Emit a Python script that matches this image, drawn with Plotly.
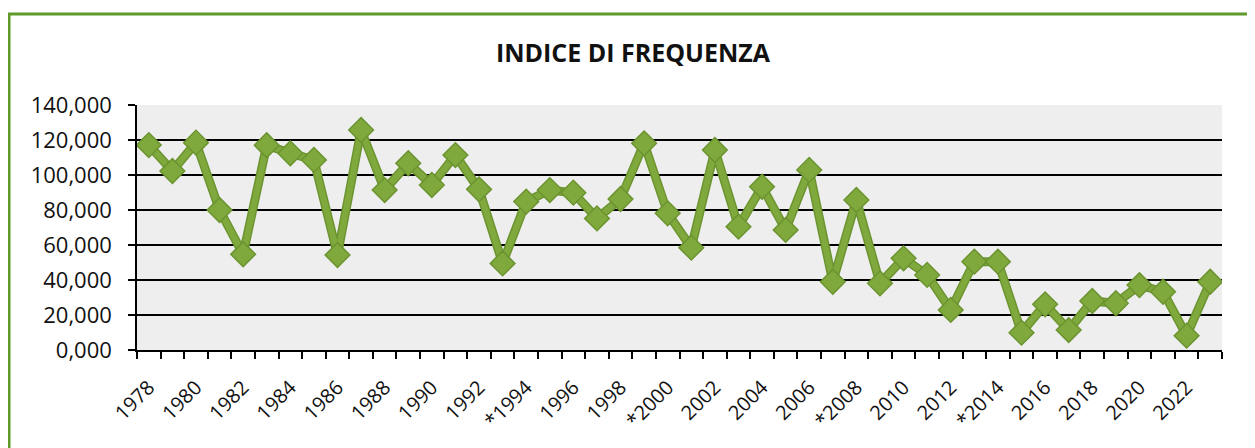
import plotly.graph_objects as go

years = list(range(1978, 2024))
values = [117.1, 102.3, 118.5, 80.0, 54.7, 117.0, 112.4, 108.6, 54.3, 125.7,
          91.4, 106.7, 94.3, 111.4, 91.8, 49.5, 84.8, 91.4, 89.9, 75.2,
          86.3, 118.1, 78.1, 58.5, 114.3, 70.5, 93.3, 68.6, 102.9, 39.0,
          85.7, 38.1, 52.4, 42.9, 22.9, 50.5, 50.5, 9.9, 26.1, 11.4,
          28.0, 26.7, 37.1, 33.3, 8.2, 39.0]
x_tick_years = list(range(1978, 2023, 2))
x_tick_labels = ["*" + str(y) if y in (1994, 2000, 2008, 2014) else str(y) for y in x_tick_years]
y_tick_vals = [0, 20, 40, 60, 80, 100, 120, 140]
y_tick_labels = ["0,000", "20,000", "40,000", "60,000", "80,000", "100,000", "120,000", "140,000"]

# page body has an 8px margin: work in reference pixels minus 8
OFF = 8
W, H = 1255 - OFF, 448 - OFF
L = 137 - OFF
T = 105 - OFF
R = W - (1222 - OFF)
B = H - (350 - OFF)
pw, ph = W - L - R, H - T - B

fig = go.Figure()
fig.add_trace(go.Scatter(
    x=years, y=values, mode="lines",
    line=dict(color="#6b9430", width=9),
    hoverinfo="skip", showlegend=False))
fig.add_trace(go.Scatter(
    x=years, y=values, mode="lines+markers",
    line=dict(color="#80a93d", width=6),
    marker=dict(symbol="diamond", size=19, color="#80a93d",
                line=dict(color="#6b9430", width=1.5)),
    showlegend=False))

fig.update_layout(
    width=W, height=H,
    margin=dict(l=L, r=R, t=T, b=B, autoexpand=False),
    paper_bgcolor="white",
    plot_bgcolor="#eeeeee",
    title=dict(text="<b>INDICE DI FREQUENZA</b>", x=(633 - OFF) / W, xanchor="center",
               y=1 - (53 - OFF) / H, yanchor="middle",
               font=dict(family="Open Sans", size=25, color="#111111")),
    font=dict(family="Open Sans", size=20, color="#111111"),
    xaxis=dict(
        range=[1977.5, 2023.5], tickmode="array", tickvals=x_tick_years,
        ticktext=x_tick_labels, tickangle=-45, ticks="", showgrid=False,
        showline=True, linecolor="black", linewidth=1.5, zeroline=False,
        automargin=False, ticklabelstandoff=16,
        tickfont=dict(family="Open Sans", size=20, color="#111111"),
        minor=dict(tickmode="linear", tick0=1977.5, dtick=1, ticks="outside",
                   ticklen=7, tickcolor="black", tickwidth=1.5, showgrid=False),
    ),
    yaxis=dict(
        range=[0, 140], tickmode="array", tickvals=y_tick_vals, ticktext=y_tick_labels,
        ticks="outside", ticklen=7, tickcolor="black", tickwidth=1.5,
        showgrid=True, gridcolor="black", gridwidth=1.5,
        showline=True, linecolor="black", linewidth=1.5, zeroline=False,
        automargin=False, ticklabelstandoff=12,
        tickfont=dict(family="Open Sans", size=22, color="#111111"),
    ),
    shapes=[dict(
        type="rect", xref="paper", yref="paper",
        x0=(9 - 137) / pw, x1=(1255 + 20 - 137) / pw,
        y0=(350 - (448 + 20)) / ph, y1=(350 - 14) / ph,
        line=dict(color="#5f9a2a", width=3), fillcolor="rgba(0,0,0,0)", layer="below")],
)

fig.write_html("out.html")
